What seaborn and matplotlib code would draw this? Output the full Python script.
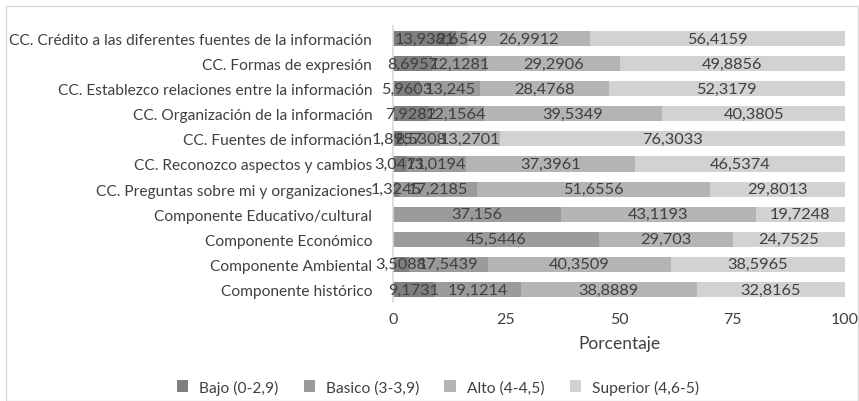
import pandas as pd
import seaborn as sns
import matplotlib.pyplot as plt
from matplotlib.patches import Rectangle, Patch

# categories (top to bottom)
CATEGORIES = [
    "CC. Crédito a las diferentes fuentes de la información",
    "CC. Formas de expresión",
    "CC. Establezco relaciones entre la información",
    "CC. Organización de la información",
    "CC. Fuentes de información",
    "CC. Reconozco aspectos y cambios",
    "CC. Preguntas sobre mi y organizaciones",
    "Componente Educativo/cultural",
    "Componente Económico",
    "Componente Ambiental",
    "Componente histórico",
]
BAJO     = [13.9381, 8.6957, 5.9603, 7.9282, 1.8957, 3.0471, 1.3245, 0, 0, 3.5088, 9.1731]
BASICO   = [2.6549, 12.1281, 13.245, 12.1564, 8.5308, 13.0194, 17.2185, 37.156, 45.5446, 17.5439, 19.1214]
ALTO     = [26.9912, 29.2906, 28.4768, 39.5349, 13.2701, 37.3961, 51.6556, 43.1193, 29.703, 40.3509, 38.8889]
SUPERIOR = [56.4159, 49.8856, 52.3179, 40.3805, 76.3033, 46.5374, 29.8013, 19.7248, 24.7525, 38.5965, 32.8165]
LEVELS = ["Bajo (0-2,9)", "Basico (3-3,9)", "Alto (4-4,5)", "Superior (4,6-5)"]

# colors
COLORS = ["#7f7f7f", "#9b9b9b", "#b4b4b4", "#d2d2d2"]
TEXT = "#404040"

sns.set_theme(style="white")
plt.rcParams["font.family"] = ["Lato", "DejaVu Sans"]

wide = pd.DataFrame({"cat": CATEGORIES, LEVELS[0]: BAJO, LEVELS[1]: BASICO,
                     LEVELS[2]: ALTO, LEVELS[3]: SUPERIOR})
cum = wide[LEVELS].cumsum(axis=1)
cum["cat"] = CATEGORIES
long = cum.melt(id_vars="cat", var_name="level", value_name="right")
seg = wide.melt(id_vars="cat", var_name="level", value_name="value")
long = long[seg["value"].values > 0]

fig = plt.figure(figsize=(8.59, 4.02), dpi=100)
ax = fig.add_axes([393 / 859, 1 - 303 / 402, 452 / 859, 276 / 402])

# stacked look: cumulative bars drawn widest first, overlapping (no dodge)
sns.barplot(data=long, x="right", y="cat", hue="level", order=CATEGORIES,
            hue_order=LEVELS[::-1], palette=COLORS[::-1], dodge=False,
            orient="h", width=0.6, saturation=1, linewidth=0, legend=False, ax=ax)

# segment labels
for i in range(len(wide)):
    start = 0
    for lev in LEVELS:
        v = wide.loc[i, lev]
        if v > 0:
            ax.text(start + v / 2, i, f"{v:g}".replace(".", ","),
                    ha="center", va="center", fontsize=11.8, color=TEXT)
        start += v

ax.set_xlim(0, 100)
ax.set_ylim(len(wide) - 0.5, -0.5)
ax.set_xticks([0, 25, 50, 75, 100])
ax.tick_params(axis="y", length=0, labelsize=11.2, colors=TEXT, pad=15)
ax.tick_params(axis="x", length=0, labelsize=11.5, colors=TEXT, pad=7)
ax.set_xlabel("Porcentaje", fontsize=12.5, color=TEXT, labelpad=7)
ax.set_ylabel("")
for s in ["top", "right", "bottom"]:
    ax.spines[s].set_visible(False)
ax.spines["left"].set_color("#d9d9d9")
ax.spines["left"].set_linewidth(1.2)

handles = [Patch(facecolor=c, edgecolor="none") for c in COLORS]
fig.legend(handles, LEVELS, loc="center", bbox_to_anchor=(438 / 859, 1 - 388 / 402),
           ncol=4, frameon=False, fontsize=11.2, handlelength=0.75, handleheight=0.75,
           columnspacing=1.6, handletextpad=0.7, labelcolor=TEXT)

# outer chart frame
fig.patches.append(Rectangle((6 / 859, 0), 852 / 859, 1 - 7 / 402, transform=fig.transFigure,
                             fill=False, edgecolor="#d9d9d9", linewidth=1))

fig.savefig("out.png", dpi=100)
